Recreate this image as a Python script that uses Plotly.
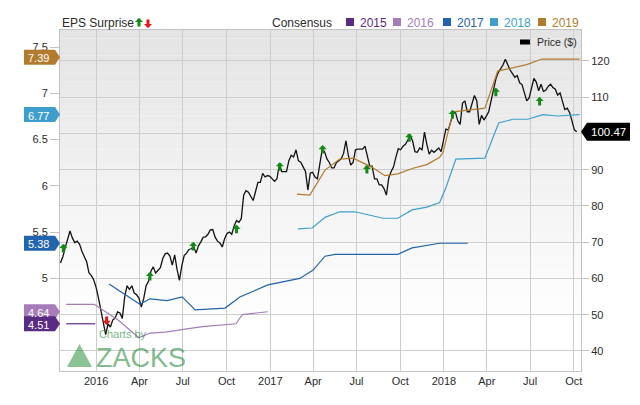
import plotly.graph_objects as go
import pandas as pd

FONT = "Liberation Sans, Arial, Helvetica, sans-serif"

# ---------------- data ----------------
price_start = "2015-10-18"
price_step = "5D"
price = [
    64.3, 66.0, 68.5, 71.0, 73.1, 71.2, 69.9, 70.3, 69.5, 67.5,
    66.0, 64.6, 61.5, 60.8, 59.6, 57.5, 54.5, 51.0, 48.6, 44.5,
    47.5, 46.6, 48.6, 49.1, 50.8, 50.5, 49.0, 55.0, 58.0, 57.0,
    58.0, 56.0, 55.5, 54.6, 52.1, 54.5, 58.0, 59.2, 62.0, 63.2,
    61.5, 62.2, 63.0, 65.5, 66.8, 67.0, 66.2, 63.7, 66.5, 62.5,
    59.5, 63.5, 66.3, 67.0, 68.0, 68.2, 68.8, 67.0, 69.0, 70.1,
    71.4, 71.5, 72.2, 73.4, 73.5, 71.4, 70.3, 69.8, 68.7, 71.0,
    72.4, 72.8, 72.2, 74.5, 76.0, 75.5, 76.5, 83.0, 84.2, 83.8,
    82.8, 81.5, 84.0, 86.5, 86.5, 89.0, 88.0, 88.4, 88.2, 87.5,
    86.8, 87.5, 91.5, 89.5, 89.4, 89.5, 92.5, 94.0, 93.5, 95.5,
    92.5, 92.1, 90.8, 89.5, 84.4, 89.1, 89.3, 88.0, 87.5, 91.5,
    95.5, 95.0, 93.0, 92.0, 90.5, 90.5, 92.0, 92.5, 93.0, 94.5,
    98.0, 94.0, 91.3, 92.0, 95.5, 95.7, 95.8, 95.7, 96.5, 94.0,
    91.0, 91.0, 87.5, 87.5, 85.8, 85.8, 84.8, 83.0, 87.8, 89.5,
    90.8, 93.5, 95.8, 95.5, 96.5, 97.0, 98.2, 99.3, 98.0, 95.0,
    94.8, 96.0, 95.5, 100.4, 97.0, 94.3, 95.4, 94.8, 95.4, 96.0,
    95.0, 98.0, 101.2, 101.0, 103.0, 105.3, 105.9, 103.5, 102.5, 108.4,
    109.0, 106.0, 106.0, 108.0, 110.5, 109.0, 102.5, 105.0, 103.7, 104.8,
    106.0, 109.0, 112.5, 115.0, 116.8, 117.8, 118.9, 120.5, 118.9, 117.5,
    116.5, 115.5, 116.0, 114.0, 113.5, 111.0, 109.0, 109.8, 112.2, 115.2,
    114.2, 111.8, 113.6, 111.6, 111.9, 113.0, 113.6, 112.7, 112.2, 110.6,
    111.2, 108.5, 106.6, 107.0, 105.8, 103.5, 101.0, 100.47,
]
price_last = 100.47

cons_2015_dates = ["2015-10-30", "2015-12-30"]
cons_2015 = [4.51, 4.51]

cons_2016_dates = ["2015-10-30", "2015-12-28", "2016-02-16", "2016-03-31", "2016-04-23",
                   "2016-05-25", "2016-08-11", "2016-09-28", "2016-10-21", "2016-11-03",
                   "2016-12-27"]
cons_2016 = [4.72, 4.72, 4.55, 4.36, 4.41, 4.42, 4.48, 4.50, 4.51, 4.61, 4.64]

cons_2017_dates = ["2016-01-28", "2016-04-02", "2016-04-23", "2016-05-29", "2016-06-30",
                   "2016-07-27", "2016-09-28", "2016-10-29", "2016-12-27", "2017-03-04",
                   "2017-04-01", "2017-04-26", "2017-05-17", "2017-09-26", "2017-10-26",
                   "2017-12-23", "2018-02-20"]
cons_2017 = [4.94, 4.72, 4.78, 4.76, 4.80, 4.66, 4.68, 4.80, 4.93, 5.00,
             5.09, 5.24, 5.26, 5.26, 5.33, 5.38, 5.38]

cons_2018_dates = ["2017-02-28", "2017-03-30", "2017-04-26", "2017-05-27", "2017-06-28",
                   "2017-08-03", "2017-08-26", "2017-09-26", "2017-10-26", "2017-11-26",
                   "2017-12-23", "2018-01-05", "2018-01-26", "2018-03-28", "2018-04-26",
                   "2018-05-26", "2018-06-26", "2018-07-28", "2018-08-28", "2018-10-13"]
cons_2018 = [5.535, 5.545, 5.66, 5.72, 5.72, 5.675, 5.65, 5.65, 5.74, 5.77,
             5.82, 5.98, 6.29, 6.30, 6.68, 6.72, 6.72, 6.77, 6.755, 6.77]

cons_2019_dates = ["2017-02-26", "2017-03-25", "2017-04-26", "2017-05-27", "2017-06-24",
                   "2017-08-03", "2017-08-30", "2017-09-26", "2017-10-28", "2017-11-26",
                   "2017-12-23", "2017-12-30", "2018-01-20", "2018-03-28", "2018-04-24",
                   "2018-06-24", "2018-07-26", "2018-10-13"]
cons_2019 = [5.91, 5.90, 6.17, 6.29, 6.30, 6.20, 6.11, 6.13, 6.19, 6.23,
             6.31, 6.36, 6.80, 6.84, 7.24, 7.31, 7.37, 7.37]

years = ["2015", "2016", "2017", "2018", "2019"]
year_colors = ["#5a2b82", "#a67cba", "#2263ad", "#3e9fcc", "#b27b2e"]
cons_dates = [cons_2015_dates, cons_2016_dates, cons_2017_dates, cons_2018_dates, cons_2019_dates]
cons_vals = [cons_2015, cons_2016, cons_2017, cons_2018, cons_2019]
badge_vals = [4.51, 4.64, 5.38, 6.77, 7.39]
badge_text = ["4.51", "4.64", "5.38", "6.77", "7.39"]

surprise_up_dates = ["2015-10-24", "2016-04-23", "2016-07-23", "2016-10-22", "2017-01-21",
                     "2017-04-21", "2017-07-23", "2017-10-20", "2018-01-19", "2018-04-20",
                     "2018-07-21"]
surprise_up_price = [69.5, 61.8, 70.1, 74.8, 92.1, 96.8, 91.3, 100.1, 106.5, 112.6, 110.1]
surprise_down_dates = ["2016-01-23"]
surprise_down_price = [47.2]

tick_dates = ["2016-01-01", "2016-04-01", "2016-07-01", "2016-10-01", "2017-01-01",
              "2017-04-01", "2017-07-01", "2017-10-01", "2018-01-01", "2018-04-01",
              "2018-07-01", "2018-10-01"]
tick_labels = ["2016", "Apr", "Jul", "Oct", "2017", "Apr", "Jul", "Oct", "2018", "Apr", "Jul", "Oct"]

price_ticks = [40, 50, 60, 70, 80, 90, 100, 110, 120]
# the 100 label sits under the last-price badge in the reference
price_tick_labels = ["40", "50", "60", "70", "80", "90", "", "110", "120"]
eps_ticks = [5, 5.5, 6, 6.5, 7, 7.5]
eps_tick_labels = ["5", "5.5", "6", "6.5", "7", "7.5"]

# ---------------- geometry ----------------
W, H = 640, 405
ML, MR, MT, MB = 60, 59, 30, 34
PW, PH = W - ML - MR, H - MT - MB
PRICE_RANGE = [34.48, 128.55]
EPS_RANGE = [4.0, 7.684]
GREEN = "#138a13"
RED = "#e8161c"
GRID = "#cdcdcd"
TXT = "#2b2b2b"


def px_x(px):
    return (px - ML) / PW


def px_y(py):
    return (H - MB - py) / PH


price_dates = pd.date_range(price_start, periods=len(price), freq=price_step)

fig = go.Figure()
fig.add_trace(go.Scatter(x=price_dates, y=price, mode="lines",
                         line=dict(color="#111111", width=1.3), yaxis="y",
                         hoverinfo="skip"))
for yr, col, d, v in zip(years, year_colors, cons_dates, cons_vals):
    fig.add_trace(go.Scatter(x=d, y=v, mode="lines", line=dict(color=col, width=1.2),
                             yaxis="y2", name=yr, hoverinfo="skip"))

shapes = []
annotations = []

# gradient plot background
NB = 40
for i in range(NB):
    t = i / (NB - 1)
    c = int(round(228 + (255 - 228) * min(1.0, t * 1.15)))
    shapes.append(dict(type="rect", xref="paper", yref="paper", x0=0, x1=1,
                       y0=1 - (i + 1) / NB, y1=1 - i / NB, layer="below",
                       line=dict(width=0), fillcolor=f"rgb({c},{c},{c})"))

# EPS surprise arrows
for d, p in zip(surprise_up_dates, surprise_up_price):
    annotations.append(dict(x=d, y=p, xref="x", yref="y", text="", showarrow=True,
                            ax=0, ay=10, arrowhead=1, arrowsize=0.45, arrowwidth=3,
                            arrowcolor=GREEN))
for d, p in zip(surprise_down_dates, surprise_down_price):
    annotations.append(dict(x=d, y=p, xref="x", yref="y", text="", showarrow=True,
                            ax=0, ay=-10, arrowhead=1, arrowsize=0.45, arrowwidth=3,
                            arrowcolor=RED))

# left badges (consensus latest values)
hh = 7.5 / (PH / (EPS_RANGE[1] - EPS_RANGE[0]))
bx0, bx1, bx2 = px_x(24), px_x(55), px_x(60)
order = [1, 0, 2, 3, 4]
for i in order:
    v, col, t = badge_vals[i], year_colors[i], badge_text[i]
    path = (f"M{bx0},{v - hh} L{bx1},{v - hh} L{bx2},{v} L{bx1},{v + hh} "
            f"L{bx0},{v + hh} Z")
    shapes.append(dict(type="path", xref="paper", yref="y2", path=path,
                       fillcolor=col, line=dict(width=0), layer="above"))
    annotations.append(dict(x=px_x(38), y=v, xref="paper", yref="y2", text=t,
                            showarrow=False, xanchor="center", yanchor="middle",
                            yshift=-1,
                            font=dict(family=FONT, size=11, color="white")))

# right badge (last price)
ph = 9 / (PH / (PRICE_RANGE[1] - PRICE_RANGE[0]))
rx0, rx1, rx2 = px_x(581), px_x(587), px_x(630)
path = (f"M{rx0},{price_last} L{rx1},{price_last + ph} L{rx2},{price_last + ph} "
        f"L{rx2},{price_last - ph} L{rx1},{price_last - ph} Z")
shapes.append(dict(type="path", xref="paper", yref="y", path=path,
                   fillcolor="#000000", line=dict(width=0), layer="above"))
annotations.append(dict(x=px_x(608), y=price_last, xref="paper", yref="y",
                        text=f"{price_last:.2f}", showarrow=False, xanchor="center",
                        yanchor="middle", font=dict(family=FONT, size=11.5, color="white")))

# top legend
annotations.append(dict(x=0, y=px_y(23), xref="paper", yref="paper", text="EPS Surprise",
                        showarrow=False, xanchor="left", yanchor="middle",
                        font=dict(family=FONT, size=12, color=TXT)))
annotations.append(dict(x=px_x(139), y=px_y(18), xref="paper", yref="paper", text="",
                        showarrow=True, ax=0, ay=10, arrowhead=1, arrowsize=0.45,
                        arrowwidth=3, arrowcolor=GREEN))
annotations.append(dict(x=px_x(148), y=px_y(28), xref="paper", yref="paper", text="",
                        showarrow=True, ax=0, ay=-10, arrowhead=1, arrowsize=0.45,
                        arrowwidth=3, arrowcolor=RED))
annotations.append(dict(x=px_x(270), y=px_y(23), xref="paper", yref="paper", text="Consensus",
                        showarrow=False, xanchor="left", yanchor="middle",
                        font=dict(family=FONT, size=12, color=TXT)))
sq_left = [346, 393, 443, 490, 538]
for yr, col, sx in zip(years, year_colors, sq_left):
    shapes.append(dict(type="rect", xref="paper", yref="paper", x0=px_x(sx), x1=px_x(sx + 8),
                       y0=px_y(26), y1=px_y(18), fillcolor=col, line=dict(width=0)))
    annotations.append(dict(x=px_x(sx + 12), y=px_y(23), xref="paper", yref="paper", text=yr,
                            showarrow=False, xanchor="left", yanchor="middle",
                            font=dict(family=FONT, size=12, color=col)))

# price legend
shapes.append(dict(type="rect", xref="paper", yref="paper", x0=px_x(520), x1=px_x(530),
                   y0=px_y(44.5), y1=px_y(39.5), fillcolor="#000000", line=dict(width=0)))
annotations.append(dict(x=px_x(535), y=px_y(42), xref="paper", yref="paper", text="Price ($)",
                        showarrow=False, xanchor="left", yanchor="middle",
                        font=dict(family=FONT, size=10.5, color=TXT)))

# Zacks logo
shapes.append(dict(type="path", xref="paper", yref="paper",
                   path=f"M{px_x(67)},{px_y(367)} L{px_x(92)},{px_y(367)} L{px_x(79.5)},{px_y(344)} Z",
                   fillcolor="#3f9b4f", opacity=0.6, line=dict(width=0), layer="above"))
annotations.append(dict(x=px_x(97), y=px_y(334), xref="paper", yref="paper", text="Charts by",
                        showarrow=False, xanchor="left", yanchor="middle", opacity=0.65,
                        font=dict(family=FONT, size=11, color="#2f8f45")))
annotations.append(dict(x=px_x(94), y=px_y(358), xref="paper", yref="paper", text="ZACKS",
                        showarrow=False, xanchor="left", yanchor="middle", opacity=0.6,
                        font=dict(family=FONT, size=27, color="#2f8f45")))

fig.update_layout(
    width=W, height=H,
    margin=dict(l=ML, r=MR, t=MT, b=MB, pad=0),
    paper_bgcolor="white", plot_bgcolor="white",
    showlegend=False,
    font=dict(family=FONT, size=11, color=TXT),
    xaxis=dict(type="date", range=["2015-10-17", "2018-10-16"], tickvals=tick_dates,
               ticktext=tick_labels, showgrid=True, gridcolor=GRID, gridwidth=1,
               showline=True, linecolor="#c2c2c2", linewidth=1, mirror=True, ticks="",
               zeroline=False, tickfont=dict(family=FONT, size=11, color=TXT)),
    yaxis=dict(side="right", range=PRICE_RANGE, tickvals=price_ticks,
               ticktext=price_tick_labels, showgrid=True,
               gridcolor=GRID, gridwidth=1, showline=True, linecolor="#c2c2c2",
               linewidth=1, mirror=True, ticks="outside", ticklen=7, tickcolor="#c2c2c2",
               zeroline=False, tickfont=dict(family=FONT, size=11, color=TXT)),
    yaxis2=dict(side="left", overlaying="y", range=EPS_RANGE, tickvals=eps_ticks,
                ticktext=eps_tick_labels, showgrid=False, showline=False, ticks="outside",
                ticklen=9, tickcolor="#c2c2c2", zeroline=False,
                tickfont=dict(family=FONT, size=11, color=TXT)),
    shapes=shapes,
    annotations=annotations,
)

fig.write_html("out.html")
